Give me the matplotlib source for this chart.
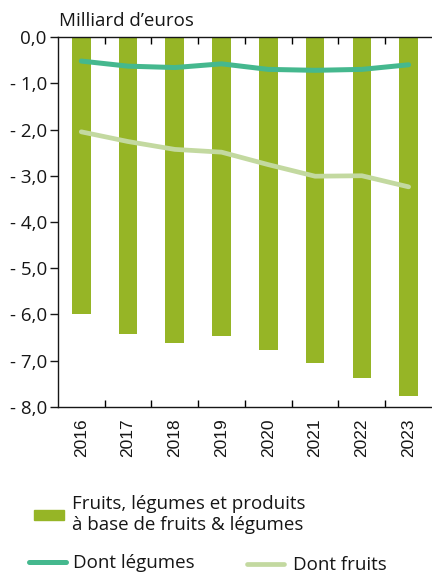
import matplotlib.pyplot as plt
from matplotlib.patches import Patch
from matplotlib.lines import Line2D
from matplotlib.ticker import FixedLocator, FuncFormatter

plt.rcParams['font.family'] = ['Open Sans', 'DejaVu Sans']

years = ['2016', '2017', '2018', '2019', '2020', '2021', '2022', '2023']
total = [-6.0, -6.42, -6.62, -6.47, -6.77, -7.06, -7.37, -7.76]
legumes = [-0.52, -0.63, -0.66, -0.58, -0.70, -0.72, -0.70, -0.60]
fruits = [-2.05, -2.26, -2.43, -2.49, -2.76, -3.01, -3.0, -3.24]

bar_col = '#96b526'
leg_col = '#45b88e'
fru_col = '#c3d9a0'
txt = '#161616'

fig = plt.figure(figsize=(4.32, 5.74), dpi=100)
ax = fig.add_axes([0.134, 0.291, 0.866, 0.6445])

x = list(range(len(years)))
ax.bar(x, total, width=0.4, color=bar_col, zorder=1)
ax.plot(x, legumes, color=leg_col, lw=3.6, solid_capstyle='round', zorder=3)
ax.plot(x, fruits, color=fru_col, lw=3.4, solid_capstyle='round', zorder=3)

ax.set_xlim(-0.5, 7.5)
ax.set_ylim(-8, 0)
ax.set_yticks([0, -1, -2, -3, -4, -5, -6, -7, -8])
ax.yaxis.set_major_formatter(FuncFormatter(
    lambda v, p: '0,0' if v == 0 else '- ' + f'{abs(v):.1f}'.replace('.', ',')))

ax.set_xticks(x)
ax.set_xticklabels(years, rotation=90, family='Liberation Sans')
ax.xaxis.set_minor_locator(FixedLocator([i + 0.5 for i in range(7)]))
ax.tick_params(axis='x', which='major', length=0, pad=8, labelsize=12.5, colors=txt)
ax.tick_params(axis='x', which='minor', length=5, direction='in', top=True, width=1)
ax.tick_params(axis='y', length=6, width=1, pad=2, labelsize=13.5, colors=txt)

for s in ['top', 'bottom', 'left']:
    ax.spines[s].set_color(txt)
    ax.spines[s].set_linewidth(1)
ax.spines['right'].set_visible(False)

fig.text(0.137, 0.963, 'Milliard d\u2019euros', fontsize=13.5, color=txt, va='center', ha='left')

fig.legend([Patch(color=bar_col)], ['Fruits, légumes et produits\nà base de fruits & légumes'],
           loc='center left', bbox_to_anchor=(0.04, 0.103), frameon=False, labelcolor=txt,
           fontsize=13.5, handlelength=1.6, handleheight=0.45, handletextpad=0.4,
           labelspacing=0.2)
fig.legend([Line2D([], [], color=leg_col, lw=3.6, solid_capstyle='round')], ['Dont légumes'],
           loc='center left', bbox_to_anchor=(0.029, 0.019), frameon=False, labelcolor=txt,
           fontsize=13.5, handlelength=1.95, handletextpad=0.35)
fig.legend([Line2D([], [], color=fru_col, lw=3.4, solid_capstyle='round')], ['Dont fruits'],
           loc='center left', bbox_to_anchor=(0.533, 0.015), frameon=False, labelcolor=txt,
           fontsize=13.5, handlelength=1.95, handletextpad=0.5)

fig.savefig('out.png', dpi=100)
